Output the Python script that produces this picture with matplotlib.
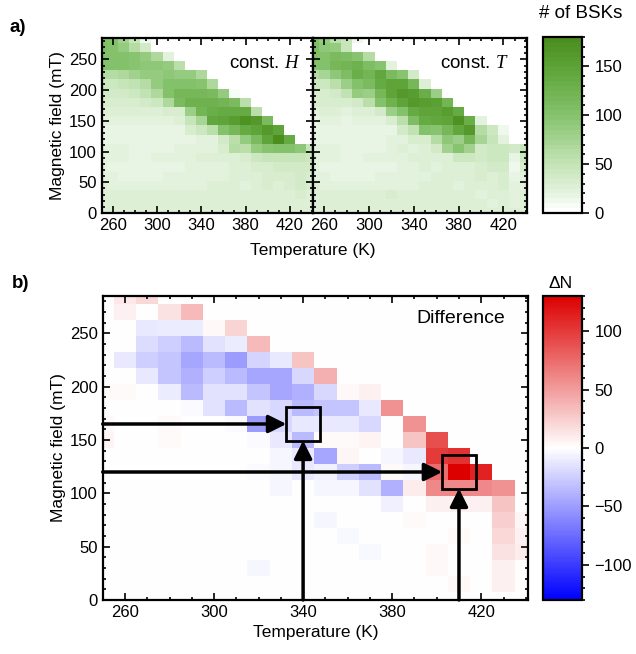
import numpy as np
import matplotlib
matplotlib.use("Agg")
import matplotlib.pyplot as plt
from matplotlib.colors import LinearSegmentedColormap
from matplotlib.ticker import MultipleLocator
from matplotlib.patches import Rectangle

plt.rcParams['font.family'] = ['Liberation Sans', 'DejaVu Sans']
plt.rcParams['mathtext.fontset'] = 'custom'
plt.rcParams['mathtext.it'] = 'Liberation Serif:italic'
plt.rcParams['mathtext.rm'] = 'Liberation Serif'

# ---------------- data ----------------
temperatures = [250, 260, 270, 280, 290, 300, 310, 320, 330, 340,
                350, 360, 370, 380, 390, 400, 410, 420, 430, 440]
# field rows listed from top (285 mT) to bottom (0 mT)
fields_top_down = [285, 270, 255, 240, 225, 210, 195, 180, 165, 150,
                   135, 120, 105, 90, 75, 60, 45, 30, 15, 0]

const_H = [
    [100, 100, 75, 45, 12, 0, 0, 0, 0, 0, 0, 0, 0, 0, 0, 0, 0, 0, 0, 0],
    [105, 102, 88, 60, 35, 0, 0, 0, 0, 0, 0, 0, 0, 0, 0, 0, 0, 0, 0, 0],
    [102, 100, 100, 95, 85, 65, 22, 0, 0, 0, 0, 0, 0, 0, 0, 0, 0, 0, 0, 0],
    [100, 100, 100, 95, 92, 90, 85, 55, 0, 0, 0, 0, 0, 0, 0, 0, 0, 0, 0, 0],
    [62, 60, 67, 75, 85, 88, 90, 88, 85, 65, 0, 0, 0, 0, 0, 0, 0, 0, 0, 0],
    [40, 42, 45, 50, 60, 85, 100, 100, 100, 95, 65, 0, 0, 0, 0, 0, 0, 0, 0, 0],
    [35, 35, 35, 40, 50, 65, 100, 115, 118, 115, 110, 85, 8, 0, 0, 0, 0, 0, 0, 0],
    [30, 30, 30, 30, 35, 40, 65, 110, 125, 125, 128, 120, 110, 55, 0, 0, 0, 0, 0, 0],
    [26, 25, 25, 25, 25, 25, 32, 30, 80, 123, 133, 136, 135, 135, 55, 0, 0, 0, 0, 0],
    [20, 20, 20, 20, 20, 20, 22, 28, 45, 70, 140, 145, 155, 170, 160, 110, 0, 0, 0, 0],
    [18, 18, 16, 16, 16, 18, 18, 18, 30, 40, 55, 100, 118, 135, 148, 160, 145, 0, 0, 0],
    [18, 18, 18, 16, 16, 16, 18, 18, 18, 20, 22, 35, 55, 85, 110, 145, 175, 135, 0, 0],
    [20, 20, 20, 18, 18, 18, 18, 20, 20, 20, 22, 30, 60, 55, 85, 95, 100, 100, 90, 45],
    [22, 20, 20, 18, 18, 20, 20, 22, 22, 25, 25, 25, 28, 32, 40, 45, 48, 48, 45, 42],
    [20, 18, 16, 15, 15, 15, 18, 18, 20, 20, 22, 22, 25, 28, 30, 32, 35, 38, 38, 35],
    [22, 20, 18, 18, 18, 18, 20, 20, 20, 22, 22, 22, 25, 28, 28, 30, 30, 32, 35, 32],
    [25, 22, 22, 22, 22, 20, 20, 22, 22, 22, 25, 25, 25, 22, 28, 30, 25, 30, 35, 30],
    [28, 28, 25, 25, 25, 25, 25, 25, 25, 25, 25, 28, 28, 25, 25, 28, 25, 25, 30, 28],
    [28, 28, 28, 28, 25, 25, 28, 28, 25, 25, 25, 28, 28, 28, 25, 25, 25, 25, 28, 25],
    [28, 28, 28, 28, 28, 28, 28, 28, 25, 25, 25, 28, 28, 28, 25, 25, 25, 25, 25, 25],
]

const_T = [
    [100, 88, 55, 45, 12, 0, 0, 0, 0, 0, 0, 0, 0, 0, 0, 0, 0, 0, 0, 0],
    [105, 94, 88, 45, 0, 0, 0, 0, 0, 0, 0, 0, 0, 0, 0, 0, 0, 0, 0, 0],
    [102, 100, 112, 105, 95, 61, 0, 0, 0, 0, 0, 0, 0, 0, 0, 0, 0, 0, 0, 0],
    [100, 100, 118, 120, 127, 105, 95, 20, 0, 0, 0, 0, 0, 0, 0, 0, 0, 0, 0, 0],
    [62, 72, 92, 105, 130, 123, 140, 110, 97, 35, 0, 0, 0, 0, 0, 0, 0, 0, 0, 0],
    [40, 42, 57, 80, 100, 110, 135, 145, 145, 115, 25, 0, 0, 0, 0, 0, 0, 0, 0, 0],
    [32, 32, 35, 50, 85, 80, 115, 145, 163, 155, 130, 81, 0, 0, 0, 0, 0, 0, 0, 0],
    [30, 30, 30, 30, 38, 55, 100, 125, 145, 160, 158, 150, 122, 0, 0, 0, 0, 0, 0, 0],
    [22, 25, 25, 22, 25, 25, 35, 80, 100, 135, 145, 148, 155, 135, 0, 0, 0, 0, 0, 0],
    [15, 20, 20, 17, 20, 20, 22, 31, 58, 105, 137, 142, 149, 170, 130, 20, 0, 0, 0, 0],
    [18, 18, 16, 16, 16, 18, 18, 18, 35, 52, 100, 95, 118, 140, 160, 60, 40, 10, 0, 0],
    [18, 18, 18, 16, 16, 16, 18, 21, 23, 32, 30, 60, 90, 82, 115, 70, 45, 23, 0, 0],
    [20, 20, 20, 18, 18, 18, 18, 20, 25, 20, 27, 35, 75, 95, 75, 35, 40, 40, 35, 45],
    [22, 20, 20, 18, 18, 20, 20, 22, 22, 25, 25, 25, 28, 40, 40, 37, 40, 40, 15, 42],
    [20, 18, 16, 15, 15, 15, 18, 18, 20, 20, 27, 22, 25, 28, 27, 32, 35, 38, 13, 30],
    [22, 20, 18, 18, 18, 18, 20, 20, 20, 22, 22, 26, 25, 28, 28, 30, 27, 32, 15, 24],
    [25, 22, 22, 22, 22, 20, 20, 22, 22, 22, 25, 25, 29, 22, 28, 26, 25, 30, 20, 20],
    [28, 28, 25, 25, 25, 25, 25, 30, 25, 25, 25, 28, 28, 25, 25, 24, 25, 25, 22, 28],
    [28, 28, 28, 28, 25, 25, 28, 28, 25, 25, 25, 28, 28, 28, 25, 25, 21, 25, 20, 25],
    [28, 28, 28, 28, 28, 28, 28, 28, 25, 25, 25, 28, 28, 28, 25, 25, 25, 25, 25, 25],
]

difference = [
    [0, 12, 20, 0, 0, 0, 0, 0, 0, 0, 0, 0, 0, 0, 0, 0, 0, 0, 0, 0],
    [0, 8, 0, 15, 35, 0, 0, 0, 0, 0, 0, 0, 0, 0, 0, 0, 0, 0, 0, 0],
    [0, 0, -12, -10, -10, 4, 22, 0, 0, 0, 0, 0, 0, 0, 0, 0, 0, 0, 0, 0],
    [0, 0, -18, -25, -35, -15, -10, 35, 0, 0, 0, 0, 0, 0, 0, 0, 0, 0, 0, 0],
    [0, -12, -25, -30, -45, -35, -50, -22, -12, 30, 0, 0, 0, 0, 0, 0, 0, 0, 0, 0],
    [0, 0, -12, -30, -40, -25, -35, -45, -45, -20, 40, 0, 0, 0, 0, 0, 0, 0, 0, 0],
    [3, 3, 0, -10, -35, -15, -15, -30, -45, -40, -20, 4, 8, 0, 0, 0, 0, 0, 0, 0],
    [0, 0, 0, 0, -3, -15, -35, -15, -20, -35, -30, -30, -12, 55, 0, 0, 0, 0, 0, 0],
    [4, 0, 0, 3, 0, 0, -3, -50, -20, -12, -12, -12, -20, 0, 55, 0, 0, 0, 0, 0],
    [6, 0, 0, 3, 0, 0, 0, -3, -12, -35, 3, 3, 6, 0, 30, 90, 0, 0, 0, 0],
    [0, 0, 0, 0, 0, 0, 0, 0, -5, -12, -45, 5, 0, -5, -12, 100, 105, 0, 0, 0],
    [0, 0, 0, 0, 0, 0, 0, -3, -5, -12, -8, -25, -35, 3, -5, 75, 130, 112, 0, 0],
    [0, 0, 0, 0, 0, 0, 0, 0, -5, 0, -5, -5, -15, -40, 10, 60, 60, 60, 55, 0],
    [0, 0, 0, 0, 0, 0, 0, 0, 0, 0, 0, 0, 0, -8, 0, 8, 8, 8, 30, 0],
    [0, 0, 0, 0, 0, 0, 0, 0, 0, 0, -5, 0, 0, 0, 3, 0, 0, 0, 25, 5],
    [0, 0, 0, 0, 0, 0, 0, 0, 0, 0, 0, -4, 0, 0, 0, 0, 3, 0, 20, 8],
    [0, 0, 0, 0, 0, 0, 0, 0, 0, 0, 0, 0, -4, 0, 0, 4, 0, 0, 15, 10],
    [0, 0, 0, 0, 0, 0, 0, -5, 0, 0, 0, 0, 0, 0, 0, 4, 0, 0, 8, 0],
    [0, 0, 0, 0, 0, 0, 0, 0, 0, 0, 0, 0, 0, 0, 0, 0, 4, 0, 8, 0],
    [0, 0, 0, 0, 0, 0, 0, 0, 0, 0, 0, 0, 0, 0, 0, 0, 0, 0, 0, 0],
]

# highlighted (T, H) points in panel b
highlight_T = [340, 410]
highlight_H = [165, 120]

temp_ticks = [260, 300, 340, 380, 420]
field_ticks = [0, 50, 100, 150, 200, 250]
bsk_ticks = [0, 50, 100, 150]
dn_ticks = [-100, -50, 0, 50, 100]

# ---------------- helpers ----------------
T = np.array(temperatures, dtype=float)
Hf = np.array(fields_top_down[::-1], dtype=float)
dT = T[1] - T[0]
dH = Hf[1] - Hf[0]
T_edges = np.concatenate([T - dT / 2, [T[-1] + dT / 2]])
H_edges = np.concatenate([Hf - dH / 2, [Hf[-1] + dH / 2]])

ZH = np.array(const_H, dtype=float)[::-1]
ZT = np.array(const_T, dtype=float)[::-1]
ZD = np.array(difference, dtype=float)[::-1]

green = LinearSegmentedColormap.from_list(
    'bsk', [(0.0, '#ffffff'), (0.1, '#e5f3df'), (0.28, '#c2e3b4'),
            (0.55, '#86c36e'), (0.83, '#5ea438'), (1.0, '#4b8e20')], N=36)
redblue = LinearSegmentedColormap.from_list(
    'dn', [(0.0, '#0000ff'), (0.5, '#ffffff'), (1.0, '#dd0000')], N=256)

W, Hpx = 636, 654
def rect(x0, y0, x1, y1):
    return [x0 / W, 1 - y1 / Hpx, (x1 - x0) / W, (y1 - y0) / Hpx]

fig = plt.figure(figsize=(6.36, 6.54), dpi=100)
ax1 = fig.add_axes(rect(101.7, 38, 313, 213))
ax2 = fig.add_axes(rect(313, 38, 527, 213))
cax1 = fig.add_axes(rect(543, 37, 582, 213))
ax3 = fig.add_axes(rect(102.7, 296, 528, 600))
cax2 = fig.add_axes(rect(543, 296, 582, 600))

TICK_FS = 12

def style(ax, left_labels=True):
    ax.set_xlim(250, 441)
    ax.set_ylim(0, 285)
    ax.set_xticks(temp_ticks)
    ax.set_yticks(field_ticks)
    ax.xaxis.set_minor_locator(MultipleLocator(10))
    ax.yaxis.set_minor_locator(MultipleLocator(10))
    ax.tick_params(which='both', direction='in', top=True, right=True,
                   width=1.2, labelsize=TICK_FS, colors='black')
    ax.tick_params(which='major', length=5, pad=3.5)
    ax.tick_params(which='minor', length=2.5)
    if not left_labels:
        ax.tick_params(labelleft=False)
    for s in ax.spines.values():
        s.set_linewidth(1.6)

m1 = ax1.pcolormesh(T_edges, H_edges, ZH, cmap=green, vmin=0, vmax=180)
ax2.pcolormesh(T_edges, H_edges, ZT, cmap=green, vmin=0, vmax=180)
m3 = ax3.pcolormesh(T_edges, H_edges, ZD, cmap=redblue, vmin=-130, vmax=130)
style(ax1)
style(ax2, left_labels=False)
style(ax3)

ax1.text(0.94, 0.855, 'const. $H$', transform=ax1.transAxes, ha='right',
         va='center', fontsize=13.5)
ax2.text(0.915, 0.855, 'const. $T$', transform=ax2.transAxes, ha='right',
         va='center', fontsize=13.5)
ax3.text(0.947, 0.925, 'Difference', transform=ax3.transAxes, ha='right',
         va='center', fontsize=14)

ax1.set_ylabel('Magnetic field (mT)', fontsize=12.5, labelpad=3)
ax3.set_ylabel('Magnetic field (mT)', fontsize=12.5, labelpad=3)
ax3.set_xlabel('Temperature (K)', fontsize=12.5, labelpad=4)
fig.text(313 / W, 1 - 251 / Hpx, 'Temperature (K)', ha='center', va='center',
         fontsize=12.5)

fig.text(10 / W, 1 - 28 / Hpx, 'a)', ha='left', va='center', fontsize=13.5,
         fontweight='bold')
fig.text(12 / W, 1 - 284 / Hpx, 'b)', ha='left', va='center', fontsize=13.5,
         fontweight='bold')
fig.text(581 / W, 1 - 13 / Hpx, '# of BSKs', ha='center', va='center',
         fontsize=13.5)
fig.text(561 / W, 1 - 283 / Hpx, '\u0394N', ha='center', va='center',
         fontsize=12.5)

def style_cb(cb, ticks):
    cb.set_ticks(ticks)
    cb.ax.yaxis.set_minor_locator(MultipleLocator(10))
    cb.ax.tick_params(which='both', direction='out', right=True, width=1.2,
                      labelsize=TICK_FS)
    cb.ax.tick_params(which='major', length=5, pad=4)
    cb.ax.tick_params(which='minor', length=2.5)
    cb.outline.set_linewidth(1.6)

cb1 = fig.colorbar(m1, cax=cax1)
style_cb(cb1, bsk_ticks)
cb2 = fig.colorbar(m3, cax=cax2)
style_cb(cb2, dn_ticks)

# arrows and boxes marking the highlighted cells
half_w, half_h = 7.5, 15.5
arrow = dict(arrowstyle='-|>,head_length=0.9,head_width=0.45', lw=2.5,
             color='black', shrinkA=0, shrinkB=0, mutation_scale=12)
for tx, hy in zip(highlight_T, highlight_H):
    ax3.add_patch(Rectangle((tx - half_w, hy - half_h), 2 * half_w, 2 * half_h,
                            fill=False, lw=2, ec='black', zorder=5))
    ax3.annotate('', xy=(tx - half_w, hy), xytext=(250, hy),
                 arrowprops=arrow, zorder=6)
    ax3.annotate('', xy=(tx, hy - half_h), xytext=(tx, 0),
                 arrowprops=arrow, zorder=6)

fig.savefig('out.png', dpi=100)
